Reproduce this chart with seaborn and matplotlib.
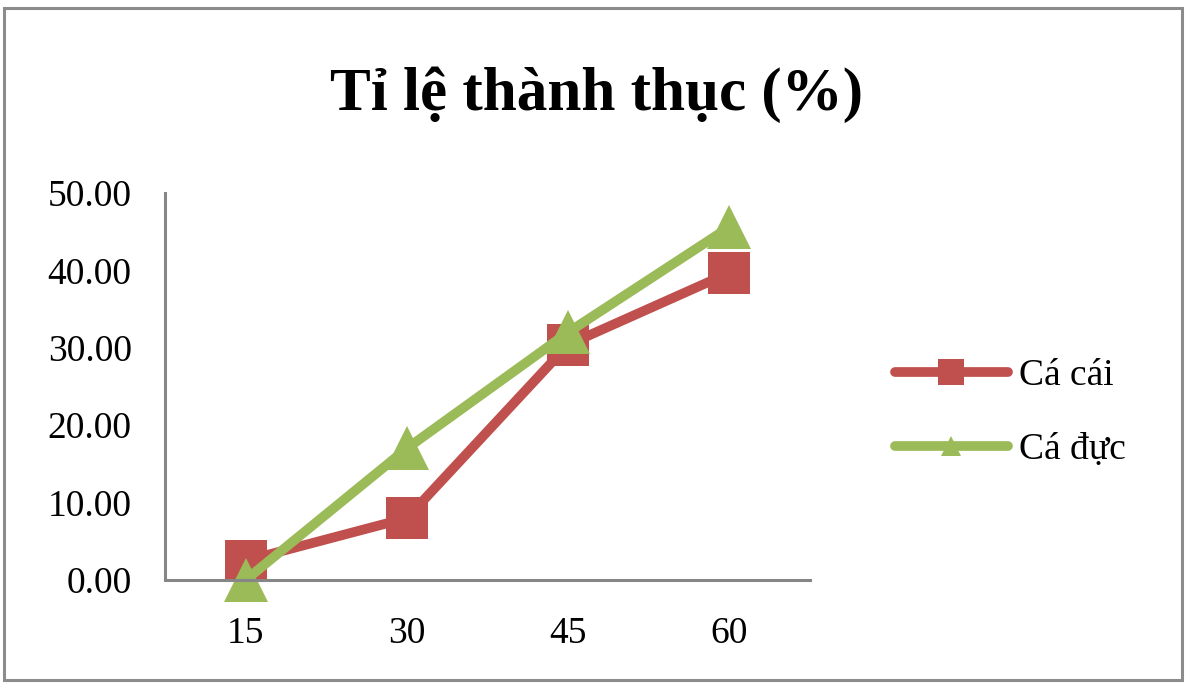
import matplotlib
matplotlib.use("Agg")
import matplotlib.pyplot as plt
from matplotlib.patches import Rectangle
from matplotlib.lines import Line2D
import seaborn as sns
import pandas as pd

# Maturation rate (%) by age group
ages = ["15", "30", "45", "60"]
ca_cai = [2.5, 8.0, 30.4, 39.7]
ca_duc = [0.0, 17.0, 32.0, 45.6]
series_names = ["Cá cái", "Cá đực"]
y_ticks = [0, 10, 20, 30, 40, 50]

colors = {"Cá cái": "#C0504D", "Cá đực": "#9BBB59"}
markers = {"Cá cái": "s", "Cá đực": "^"}

df = pd.DataFrame({
    "age": ages * 2,
    "rate": ca_cai + ca_duc,
    "series": [series_names[0]] * len(ages) + [series_names[1]] * len(ages),
})

sns.set_theme(style="white")
plt.rcParams["font.family"] = ["Liberation Serif", "DejaVu Serif"]
plt.rcParams["text.color"] = "black"

fig = plt.figure(figsize=(11.89, 6.83), dpi=100)
ax = fig.add_axes([165 / 1189, 103 / 683, 645 / 1189, 387 / 683])

for name in series_names:
    sub = df[df["series"] == name]
    sns.lineplot(data=sub, x="age", y="rate", ax=ax, color=colors[name],
                 marker=markers[name], markersize=30 if name == "Cá cái" else 31,
                 markeredgewidth=0, linewidth=7, sort=False,
                 solid_joinstyle="round", solid_capstyle="round",
                 clip_on=False, legend=False)

ax.set_xlim(-0.5, len(ages) - 0.5)
ax.set_ylim(0, 50)
ax.set_yticks(y_ticks)
ax.set_yticklabels([f"{v:.2f}" for v in y_ticks])
ax.set_xlabel("")
ax.set_ylabel("")
ax.tick_params(axis="both", length=0, labelsize=27, colors="black")
ax.tick_params(axis="y", pad=24)
ax.tick_params(axis="x", pad=26)

for side in ["top", "right"]:
    ax.spines[side].set_visible(False)
for side in ["left", "bottom"]:
    ax.spines[side].set_color("#868686")
    ax.spines[side].set_linewidth(2.2)

fig.text(597 / 1189, 1 - 95 / 683, "Tỉ lệ thành thục (%)", ha="center", va="center",
         fontsize=44, fontweight="bold", color="black")

handles = [Line2D([], [], color=colors[n], marker=markers[n],
                  markersize=19 if n == "Cá cái" else 15,
                  markeredgewidth=0, linewidth=7, solid_capstyle="round")
           for n in series_names]
fig.legend(handles, series_names, loc="center left",
           bbox_to_anchor=(895 / 1189, 1 - 413 / 683), frameon=False,
           fontsize=27, handlelength=3.0, handletextpad=0.3, labelspacing=1.05,
           borderpad=0, borderaxespad=0, labelcolor="black")

fig.add_artist(Rectangle((4 / 1189, 3 / 683), 1178 / 1189, 672 / 683,
                         transform=fig.transFigure, fill=False,
                         edgecolor="#8C8C8C", linewidth=2.2))

fig.savefig("out.png", dpi=100)
